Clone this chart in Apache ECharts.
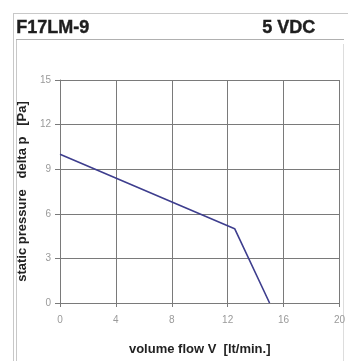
<!DOCTYPE html>
<html>
<head>
<meta charset="utf-8">
<script src="https://cdn.jsdelivr.net/npm/echarts@6/dist/echarts.min.js"></script>
<style>
  html, body { margin: 0; padding: 0; background: #fff; }
  #chart { width: 348px; height: 361px; }
</style>
</head>
<body>
<div id="chart"></div>
<script>
// data
var titleLeft = 'F17LM-9';
var titleRight = '5 VDC';
var flow = [0, 12.5, 15];        // volume flow V [lt/min.]
var pressure = [10, 5, 0];       // static pressure delta p [Pa]
var xTicks = [0, 4, 8, 12, 16, 20];
var yTicks = [0, 3, 6, 9, 12, 15];

var myChart = echarts.init(document.getElementById('chart'));
var frameColor = '#c8c8c8';
var gridColor = '#7a7a7a';
var tickColor = '#9a9a9a';

myChart.setOption({
    backgroundColor: '#fff',
    animation: false,
    grid: { left: 60, top: 80, right: 6, bottom: 53 },
    graphic: [
        // outer frame lines
        { type: 'line', shape: { x1: 13, y1: 13.5, x2: 348, y2: 13.5 }, style: { stroke: frameColor, lineWidth: 1 } },
        { type: 'line', shape: { x1: 13.5, y1: 13, x2: 13.5, y2: 361 }, style: { stroke: frameColor, lineWidth: 1 } },
        { type: 'line', shape: { x1: 16.5, y1: 39, x2: 16.5, y2: 361 }, style: { stroke: frameColor, lineWidth: 1 } },
        { type: 'line', shape: { x1: 16, y1: 39.5, x2: 344, y2: 39.5 }, style: { stroke: '#b0b0b0', lineWidth: 1 } },
        { type: 'line', shape: { x1: 343.5, y1: 44, x2: 343.5, y2: 361 }, style: { stroke: '#dddddd', lineWidth: 1 } },
        {
            type: 'text', left: 16, top: 19,
            style: { text: titleLeft, font: 'bold 18px "Liberation Sans", Arial, sans-serif', fill: '#1e1e1e', stroke: '#1e1e1e', lineWidth: 0.4 }
        },
        {
            type: 'text', left: 262, top: 19,
            style: { text: titleRight, font: 'bold 18px "Liberation Sans", Arial, sans-serif', fill: '#1e1e1e', stroke: '#1e1e1e', lineWidth: 0.4 }
        }
    ],
    xAxis: {
        type: 'value',
        min: xTicks[0],
        max: xTicks[xTicks.length - 1],
        interval: xTicks[1] - xTicks[0],
        name: 'volume flow V  [lt/min.]',
        nameLocation: 'middle',
        nameGap: 40,
        nameTextStyle: { fontFamily: '"Liberation Sans", Arial', fontWeight: 'bold', fontSize: 13, color: '#222' },
        axisLine: { show: true, lineStyle: { color: gridColor, width: 1 } },
        axisTick: { show: true, length: 4, lineStyle: { color: gridColor } },
        axisLabel: { fontSize: 10, color: tickColor, margin: 12, fontFamily: '"Liberation Sans", Arial' },
        splitLine: { show: true, lineStyle: { color: gridColor, width: 1 } }
    },
    yAxis: {
        type: 'value',
        min: yTicks[0],
        max: yTicks[yTicks.length - 1],
        interval: yTicks[1] - yTicks[0],
        name: 'static pressure   delta p   [Pa]',
        nameLocation: 'middle',
        nameRotate: 90,
        nameGap: 25,
        nameTextStyle: { fontFamily: '"Liberation Sans", Arial', fontWeight: 'bold', fontSize: 13, color: '#222' },
        axisLine: { show: true, lineStyle: { color: gridColor, width: 1 } },
        axisTick: { show: true, length: 5, lineStyle: { color: gridColor } },
        axisLabel: { fontSize: 10, color: tickColor, margin: 9, fontFamily: '"Liberation Sans", Arial' },
        splitLine: { show: true, lineStyle: { color: gridColor, width: 1 } }
    },
    series: [
        {
            type: 'line',
            data: flow.map(function (v, i) { return [v, pressure[i]]; }),
            showSymbol: false,
            symbol: 'none',
            lineStyle: { color: '#3e3e8e', width: 1.6 }
        }
    ]
});
</script>
</body>
</html>
